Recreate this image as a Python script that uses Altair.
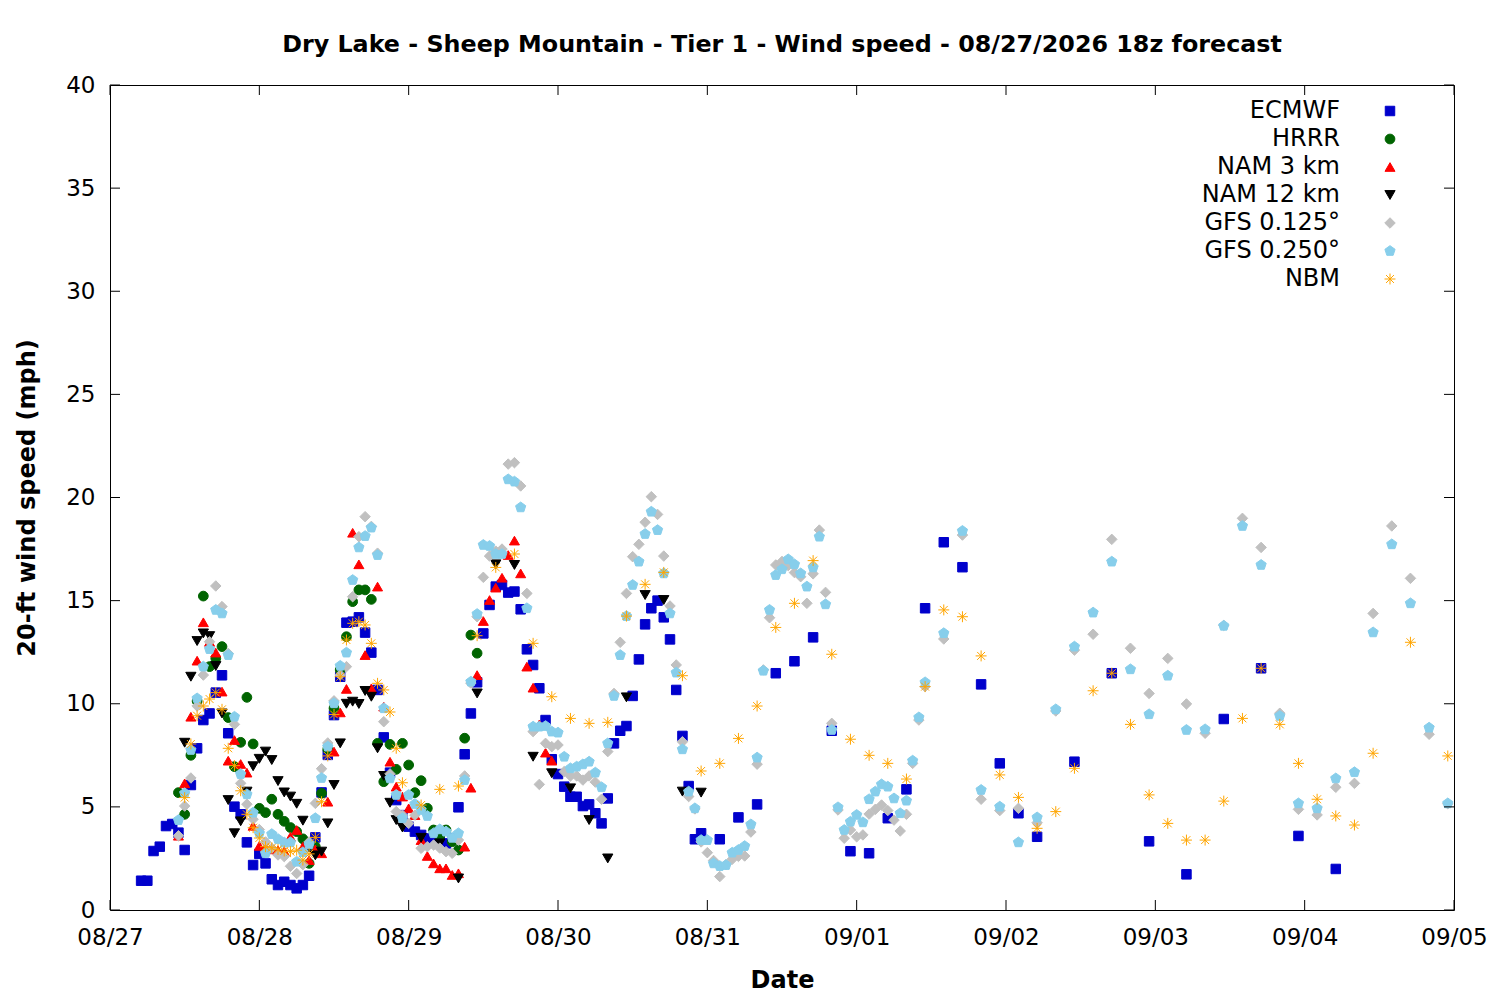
import json
import altair as alt
import pandas as pd

# ---------------- series definitions ----------------
SERIES = ["ECMWF", "HRRR", "NAM 3 km", "NAM 12 km", "GFS 0.125°", "GFS 0.250°", "NBM"]
COLORS = ["#0000cc", "#006400", "#ff0000", "#000000", "#c0c0c0", "#87ceeb", "#ffa500"]
PENTAGON = "M0,-1L0.951,-0.309L0.588,0.809L-0.588,0.809L-0.951,-0.309Z"
ASTERISK = "M-1,0L1,0M0,-1L0,1M-0.72,-0.72L0.72,0.72M-0.72,0.72L0.72,-0.72"
SHAPES = ["square", "circle", "triangle-up", "triangle-down", "diamond", PENTAGON, ASTERISK]
SIZES = [90, 120, 150, 150, 120, 150, 150]

DATE_LABELS = ["08/27", "08/28", "08/29", "08/30", "08/31", "09/01", "09/02", "09/03", "09/04", "09/05"]
Y_TICKS = [0, 5, 10, 15, 20, 25, 30, 35, 40]

# hours are counted from 08/27 00:00 (axis start)
# ---- ECMWF ----
ECMWF_1H_START = 5
ECMWF_1H = [1.42, 1.42, 2.86, 3.07, 4.07, 4.17, 3.75, 2.91, 6.06, 7.84,
            9.21, 9.53, 10.54, 11.38, 8.57, 5.01, 4.64, 3.28, 2.18, 2.72,
            2.26, 1.49, 1.21, 1.37, 1.21, 1.05, 1.21, 1.66, 3.52, 5.70,
            7.52, 9.45, 11.31, 13.93, 13.98, 14.19, 13.45, 12.48, 10.67, 8.37,
            6.66, 5.33, 4.60, 4.04, 3.80, 3.64, 3.47, 3.31, 3.31, 3.23,
            3.47, 4.98, 7.55, 9.53, 11.04, 13.41, 14.79, 15.68, 15.76, 15.39,
            15.44, 14.58, 12.64, 11.88, 10.75, 9.21, 7.31, 6.59, 5.98, 5.49,
            5.49, 5.04, 5.12, 4.69, 4.20, 5.41, 8.08, 8.69, 8.92, 10.38,
            12.15, 13.85, 14.63, 15.00, 14.19, 13.12, 10.67, 8.44, 6.01, 3.43,
            3.72]
ECMWF_3H_START = 98
ECMWF_3H = [3.43, 4.49, 5.12, 11.48, 12.06, 13.22, 8.69, 2.85, 2.75, 4.45,
            5.85, 14.63, 17.83, 16.62, 10.94, 7.11, 4.69, 3.55]
ECMWF_6H_START = 155
ECMWF_6H = [7.19, 11.48, 3.33, 1.73, 9.26, 11.72, 3.59, 1.99]

# ---- HRRR ----
HRRR_1H_START = 11
HRRR_1H = [5.69, 4.64, 7.50, 10.13, 15.22, 11.80, 12.20, 12.77, 9.33, 6.95,
           8.13, 10.31, 8.05, 4.93, 4.72, 5.37, 4.64, 4.30, 4.00, 3.80,
           3.45, 2.26, 3.07, 5.66, 7.79, 9.78, 11.64, 13.25, 14.95, 15.52,
           15.52, 15.06, 8.08, 6.22, 8.03, 6.82, 8.08, 7.03, 5.69, 6.27,
           4.93, 3.88, 3.60, 3.88, 3.31, 2.91, 8.33, 13.33, 12.45]

# ---- NAM 3 km ----
NAM3_1H_START = 11
NAM3_1H = [3.60, 6.14, 9.37, 12.09, 13.95, 13.00, 12.48, 10.59, 7.24, 8.24,
           7.08, 6.66, 4.08, 3.11, 3.07, 2.94, 2.90, 2.85, 3.55, 3.88,
           3.07, 2.42, 2.94, 2.75, 5.25, 7.68, 9.58, 10.72, 18.29, 16.76,
           12.36, 10.75, 15.68, 9.86, 7.19, 5.98, 5.50, 4.93, 4.60, 3.39,
           2.62, 2.26, 2.02, 2.02, 1.70, 1.78, 3.07, 5.93, 11.39, 14.01,
           15.03, 15.63, 16.11, 17.21, 17.91, 16.32, 11.80, 10.78, 9.00, 7.63,
           7.24]

# ---- NAM 12 km ----
NAM12_1H_START = 12
NAM12_1H = [8.11, 11.31, 13.04, 13.41, 13.28, 11.83, 9.53, 5.33, 3.72, 4.30,
            5.74, 6.97, 7.33, 7.68, 7.27, 6.25, 5.70, 5.50, 5.15, 4.33,
            3.03, 2.65, 2.83, 4.20, 6.06, 8.08, 10.00, 10.10, 9.99, 10.62,
            10.34, 7.84, 6.50, 5.20, 4.36, 4.00]
NAM12_3H_START = 50
NAM12_3H = [3.50, 3.23, 1.53, 10.50, 16.76, 16.73, 7.43, 6.63, 5.90, 4.36,
            2.50, 10.31, 15.27, 15.03, 5.74, 5.69]

# ---- GFS 0.125 ----
GFS125_1H_START = 11
GFS125_1H = [3.60, 5.04, 6.40, 9.89, 11.39, 13.01, 15.71, 14.71, 12.44, 9.00,
             6.14, 5.13, 4.40, 3.90, 3.30, 3.00, 2.67, 2.59, 2.12, 1.77,
             2.20, 3.30, 5.17, 6.85, 8.10, 10.14, 11.40, 11.80, 15.19, 18.10,
             19.07, 18.60, 17.30, 9.13, 6.60, 4.77, 4.60, 4.20, 4.60, 2.99,
             3.07, 3.15, 3.00, 2.83, 2.75, 3.39, 6.50, 11.00, 14.22, 16.13,
             17.16, 17.40, 17.50, 21.62, 21.69, 20.56, 15.35, 8.65, 6.09, 8.08,
             7.92, 8.00, 6.71, 6.50, 6.50, 6.30, 6.50, 6.20, 5.37, 7.68,
             10.50, 12.98, 15.35, 17.13, 17.73, 18.80, 20.04, 19.18, 17.16, 14.74,
             11.88, 8.16, 5.50, 4.90, 3.30, 2.78, 2.40, 1.62, 2.20, 2.46,
             2.60, 2.62, 3.78, 7.07, 11.64, 14.17, 16.73, 16.90, 16.70, 16.36,
             16.16, 14.87, 16.30, 18.42, 15.40, 9.05, 4.85, 3.48, 3.88, 3.55,
             3.64, 4.65, 4.88, 5.09, 4.82, 4.36, 3.83, 4.64, 7.11, 9.21,
             10.83]
GFS125_3H_START = 134
GFS125_3H = [13.14, 18.18, 5.37, 4.82, 4.93, 4.23, 9.65, 12.60, 13.37, 17.97,
             12.69, 10.50, 12.20, 9.99, 8.57, 13.80, 18.99, 17.58, 9.54, 4.88,
             4.61, 5.95, 6.14, 14.38, 18.62, 16.08, 8.52, 5.15]

# ---- GFS 0.250 ----
GFS250_1H_START = 11
GFS250_1H = [4.36, 5.66, 7.76, 10.26, 11.80, 12.65, 14.55, 14.38, 12.36, 9.37,
             6.59, 5.61, 4.72, 3.72, 2.75, 3.68, 3.44, 3.27, 3.28, 2.34,
             2.80, 3.18, 4.45, 6.40, 7.92, 10.02, 11.84, 12.48, 16.00, 17.58,
             18.13, 18.54, 17.21, 9.78, 6.38, 5.58, 4.45, 5.58, 5.14, 4.85,
             4.56, 3.72, 3.91, 3.80, 3.50, 3.72, 6.30, 11.07, 14.35, 17.70,
             17.65, 17.26, 17.26, 20.88, 20.77, 19.52, 14.63, 8.89, 8.89, 8.92,
             8.65, 8.60, 7.43, 6.87, 6.95, 7.06, 7.19, 6.66, 5.95, 8.08,
             10.38, 12.36, 14.25, 15.76, 16.89, 18.23, 19.31, 18.42, 16.32, 14.38,
             11.51, 7.79, 5.74, 4.93, 3.39, 3.39, 2.26, 2.13, 2.18, 2.78,
             2.91, 3.10, 4.15, 7.39, 11.60, 14.55, 16.24, 16.52, 17.00, 16.76,
             16.32, 15.68, 16.61, 18.10, 14.82, 8.73, 4.98, 3.88, 4.28, 4.61,
             4.25, 5.37, 5.74, 6.09, 5.98, 5.41, 4.69, 5.30, 7.24, 9.34,
             11.04]
GFS250_3H_START = 134
GFS250_3H = [13.42, 18.38, 5.82, 5.01, 3.28, 4.49, 9.73, 12.77, 14.42, 16.89,
             11.67, 9.49, 11.36, 8.73, 8.76, 13.78, 18.62, 16.73, 9.41, 5.17,
             4.93, 6.38, 6.68, 13.46, 17.73, 14.87, 8.84, 5.17]

# ---- NBM ----
NBM_1H_START = 12
NBM_1H = [5.45, 8.05, 9.42, 9.89, 10.23, 10.54, 9.73, 7.84, 7.00, 5.78,
          4.64, 3.99, 3.49, 3.07, 3.02, 2.94, 2.86, 2.83, 2.90, 2.42,
          2.72, 3.52, 5.25, 7.47, 9.48, 11.31, 13.09, 13.90, 13.98, 13.82,
          12.93, 10.99, 10.67, 9.60, 7.84, 6.17]
NBM_3H_START = 50
NBM_3H = [5.09, 5.85, 6.01, 13.30, 16.61, 17.26, 12.93, 10.34, 9.29, 9.05,
          9.10, 14.25, 15.79, 16.37, 11.36, 6.74, 7.11, 8.32, 9.89, 13.70,
          14.87, 16.94, 12.40, 8.28, 7.50, 7.11, 6.35, 10.83, 14.55, 14.22,
          12.32, 6.55, 5.46, 3.96, 4.77, 6.87, 10.63, 11.48, 9.00, 5.58,
          4.20, 3.39, 3.39, 5.28, 9.29, 11.72, 9.00, 7.11, 5.37, 4.56,
          4.12, 7.60]
NBM_6H_START = 209
NBM_6H = [12.98, 7.47]


def segment(model, start, step, values):
    return [{"model": model, "hour": start + i * step, "speed": v} for i, v in enumerate(values)]


rows = []
rows += segment("ECMWF", ECMWF_1H_START, 1, ECMWF_1H)
rows += segment("ECMWF", ECMWF_3H_START, 3, ECMWF_3H)
rows += segment("ECMWF", ECMWF_6H_START, 6, ECMWF_6H)
rows += segment("HRRR", HRRR_1H_START, 1, HRRR_1H)
rows += segment("NAM 3 km", NAM3_1H_START, 1, NAM3_1H)
rows += segment("NAM 12 km", NAM12_1H_START, 1, NAM12_1H)
rows += segment("NAM 12 km", NAM12_3H_START, 3, NAM12_3H)
rows += segment("GFS 0.125°", GFS125_1H_START, 1, GFS125_1H)
rows += segment("GFS 0.125°", GFS125_3H_START, 3, GFS125_3H)
rows += segment("GFS 0.250°", GFS250_1H_START, 1, GFS250_1H)
rows += segment("GFS 0.250°", GFS250_3H_START, 3, GFS250_3H)
rows += segment("NBM", NBM_1H_START, 1, NBM_1H)
rows += segment("NBM", NBM_3H_START, 3, NBM_3H)
rows += segment("NBM", NBM_6H_START, 6, NBM_6H)
df = pd.DataFrame(rows)

X_TICKS = [24 * i for i in range(len(DATE_LABELS))]
X_MAX = X_TICKS[-1]
label_expr = json.dumps(DATE_LABELS) + "[round(datum.value / 24)]"

W, H = 1344, 825
TICK = 10
FONT = "DejaVu Sans"

legend = alt.Legend(
    title=None, orient="none", legendX=1268, legendY=14,
    labelAlign="right", labelOffset=alt.ExprRef("-62"), symbolOffset=0,
    labelFontSize=24, labelFont=FONT,
    labelColor="black", labelLimit=0, rowPadding=4, padding=0,
    symbolStrokeWidth=1, symbolOpacity=1,
)

x_enc = alt.X("hour:Q", scale=alt.Scale(domain=[0, X_MAX], nice=False, zero=False),
              axis=alt.Axis(values=X_TICKS, labelExpr=label_expr, title="Date",
                            labelPadding=16, labelFlush=False, labelOverlap=False,
                            titleY=70, titleBaseline="middle"))
y_enc = alt.Y("speed:Q", scale=alt.Scale(domain=[0, 40], nice=False),
              axis=alt.Axis(values=Y_TICKS, title="20-ft wind speed (mph)", labelPadding=15,
                            labelFlush=False, labelOverlap=False,
                            titleX=-83, titleY=H / 2, titleAngle=270, titleAlign="center",
                            titleBaseline="middle"))

points = alt.Chart(df).mark_point(filled=True, opacity=1, strokeWidth=1).encode(
    x=x_enc,
    y=y_enc,
    color=alt.Color("model:N", scale=alt.Scale(domain=SERIES, range=COLORS), legend=legend),
    stroke=alt.Stroke("model:N", scale=alt.Scale(domain=SERIES, range=COLORS), legend=legend),
    shape=alt.Shape("model:N", scale=alt.Scale(domain=SERIES, range=SHAPES), legend=legend),
    size=alt.Size("model:N", scale=alt.Scale(domain=SERIES, range=SIZES), legend=legend),
)

ydf = pd.DataFrame({"speed": Y_TICKS})
xdf = pd.DataFrame({"hour": X_TICKS})
tick_left = alt.Chart(ydf).mark_rule(color="black", strokeWidth=1).encode(
    y="speed:Q", x=alt.value(0), x2=alt.value(TICK))
tick_right = alt.Chart(ydf).mark_rule(color="black", strokeWidth=1).encode(
    y="speed:Q", x=alt.value(W - TICK), x2=alt.value(W))
tick_bottom = alt.Chart(xdf).mark_rule(color="black", strokeWidth=1).encode(
    x="hour:Q", y=alt.value(H - TICK), y2=alt.value(H))
tick_top = alt.Chart(xdf).mark_rule(color="black", strokeWidth=1).encode(
    x="hour:Q", y=alt.value(0), y2=alt.value(TICK))

chart = alt.layer(points, tick_left, tick_right, tick_bottom, tick_top).properties(
    width=W, height=H,
    background="white",
    autosize=alt.AutoSizeParams(type="none"),
    padding={"left": 102, "top": 77, "right": 38, "bottom": 82},
    title=alt.TitleParams(
        "Dry Lake - Sheep Mountain - Tier 1 - Wind speed - 08/27/2026 18z forecast",
        font=FONT, fontSize=23.8, fontWeight="bold", color="black", anchor="middle",
        offset=2, dy=9, baseline="bottom"),
).configure_view(
    stroke="black", strokeWidth=1
).configure_axis(
    grid=False, domain=False, ticks=False,
    labelFont=FONT, labelFontSize=23, labelColor="black",
    titleFont=FONT, titleFontSize=24, titleFontWeight="bold", titleColor="black",
)

chart.save("out.html", embed_options={"renderer": "svg", "actions": False})
